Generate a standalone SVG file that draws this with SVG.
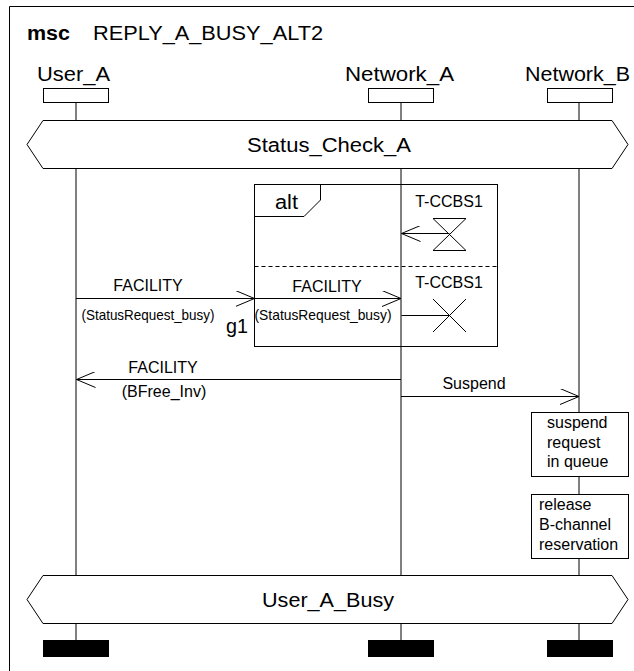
<svg xmlns="http://www.w3.org/2000/svg" width="634" height="671" viewBox="0 0 634 671">
<style>
text{font-family:"Liberation Sans",Arial,sans-serif;fill:#000}
.ln{stroke:#000;stroke-width:1;fill:none}
.box{stroke:#000;stroke-width:1;fill:#fff}
.t20{font-size:20px}
.t16{font-size:16px}
.t15{font-size:15px}
.mid{text-anchor:middle}
</style>
<defs>
<marker id="open" viewBox="0 0 20 16" refX="19" refY="8" markerWidth="20" markerHeight="16" markerUnits="userSpaceOnUse" orient="auto">
<path d="M0,0 L19,8 L0,16" fill="none" stroke="#000" stroke-width="1"/>
</marker>
</defs>
<rect width="634" height="671" fill="#fff"/>
<g id="frame">
<path class="ln" d="M9.5,671 V6.5 H634"/>
<text x="27" y="40" class="t20" font-weight="bold" textLength="43" lengthAdjust="spacingAndGlyphs">msc</text>
<text x="93" y="40" class="t20" textLength="230" lengthAdjust="spacingAndGlyphs">REPLY_A_BUSY_ALT2</text>
</g>
<g id="lifelines" class="ln">
<path d="M76,103 V120 M76,169 V575 M76,623 V640"/>
<path d="M401,103 V120 M401,169 V575 M401,623 V640"/>
<path d="M579,103 V120 M579,169 V412 M579,477 V494 M579,559 V575 M579,623 V640"/>
</g>
<g id="User_A">
<text x="37" y="81" class="t20" textLength="73" lengthAdjust="spacingAndGlyphs">User_A</text>
<rect class="box" x="43.5" y="88.5" width="65" height="14"/>
<rect x="43" y="640" width="66" height="17" fill="#000"/>
</g>
<g id="Network_A">
<text x="345" y="81" class="t20" textLength="109" lengthAdjust="spacingAndGlyphs">Network_A</text>
<rect class="box" x="368.5" y="88.5" width="65" height="14"/>
<rect x="368" y="640" width="66" height="17" fill="#000"/>
</g>
<g id="Network_B">
<text x="525" y="81" class="t20" textLength="105" lengthAdjust="spacingAndGlyphs">Network_B</text>
<rect class="box" x="547.5" y="88.5" width="65" height="14"/>
<rect x="547" y="640" width="66" height="17" fill="#000"/>
</g>
<g id="Status_Check_A">
<polygon class="box" points="27,144.5 43,120.5 612,120.5 628,144.5 612,168.5 43,168.5"/>
<text x="247" y="152" class="t20" textLength="164" lengthAdjust="spacingAndGlyphs">Status_Check_A</text>
</g>
<g id="alt">
<rect class="ln" x="254.5" y="184.5" width="243" height="162"/>
<path class="ln" d="M254.5,216.5 H304 L320.5,200 V184.5"/>
<text x="275" y="209" class="t20" textLength="23" lengthAdjust="spacingAndGlyphs">alt</text>
<path class="ln" d="M254.5,266.5 H497.5" stroke-dasharray="4,3"/>
</g>
<g id="timer1">
<text x="449" y="207" class="t16 mid">T-CCBS1</text>
<path class="ln" d="M433,218.5 H466 L433,250.5 H466 Z"/>
</g>
<g id="timer2">
<text x="449" y="288" class="t16 mid">T-CCBS1</text>
<path class="ln" d="M433,299 L466,332 M466,299 L433,332"/>
</g>
<g id="suspend_queue">
<rect class="box" x="531.5" y="412.5" width="97" height="64"/>
<text x="547" y="428" class="t16">suspend</text>
<text x="547" y="448" class="t16">request</text>
<text x="547" y="467" class="t16">in queue</text>
</g>
<g id="release_b">
<rect class="box" x="531.5" y="494.5" width="97" height="64"/>
<text x="539" y="510" class="t16">release</text>
<text x="539" y="530" class="t16">B-channel</text>
<text x="539" y="550" class="t16">reservation</text>
</g>
<g id="User_A_Busy">
<polygon class="box" points="27,599.5 43,575.5 612,575.5 628,599.5 612,623.5 43,623.5"/>
<text x="262" y="607" class="t20" textLength="132" lengthAdjust="spacingAndGlyphs">User_A_Busy</text>
</g>
<g id="connectors">
<path class="ln" d="M449.5,233.5 H401.5" marker-end="url(#open)"/>
<path class="ln" d="M401.5,315.5 H449.5"/>
<path class="ln" d="M76,298.5 H254.5" marker-end="url(#open)"/>
<text x="148" y="291" class="t16 mid">FACILITY</text>
<text x="148" y="320" class="t15 mid" textLength="133" lengthAdjust="spacingAndGlyphs">(StatusRequest_busy)</text>
<text x="248" y="333" class="t20" text-anchor="end" textLength="22" lengthAdjust="spacingAndGlyphs">g1</text>
<path class="ln" d="M254.5,298.5 H401" marker-end="url(#open)"/>
<text x="327" y="292" class="t16 mid">FACILITY</text>
<text x="323" y="320" class="t15 mid" textLength="137" lengthAdjust="spacingAndGlyphs">(StatusRequest_busy)</text>
<path class="ln" d="M401,379.5 H76.5" marker-end="url(#open)"/>
<text x="163" y="373" class="t16 mid">FACILITY</text>
<text x="164" y="397" class="t16 mid">(BFree_Inv)</text>
<path class="ln" d="M401,396.5 H579" marker-end="url(#open)"/>
<text x="474" y="389" class="t16 mid">Suspend</text>
</g>
</svg>
